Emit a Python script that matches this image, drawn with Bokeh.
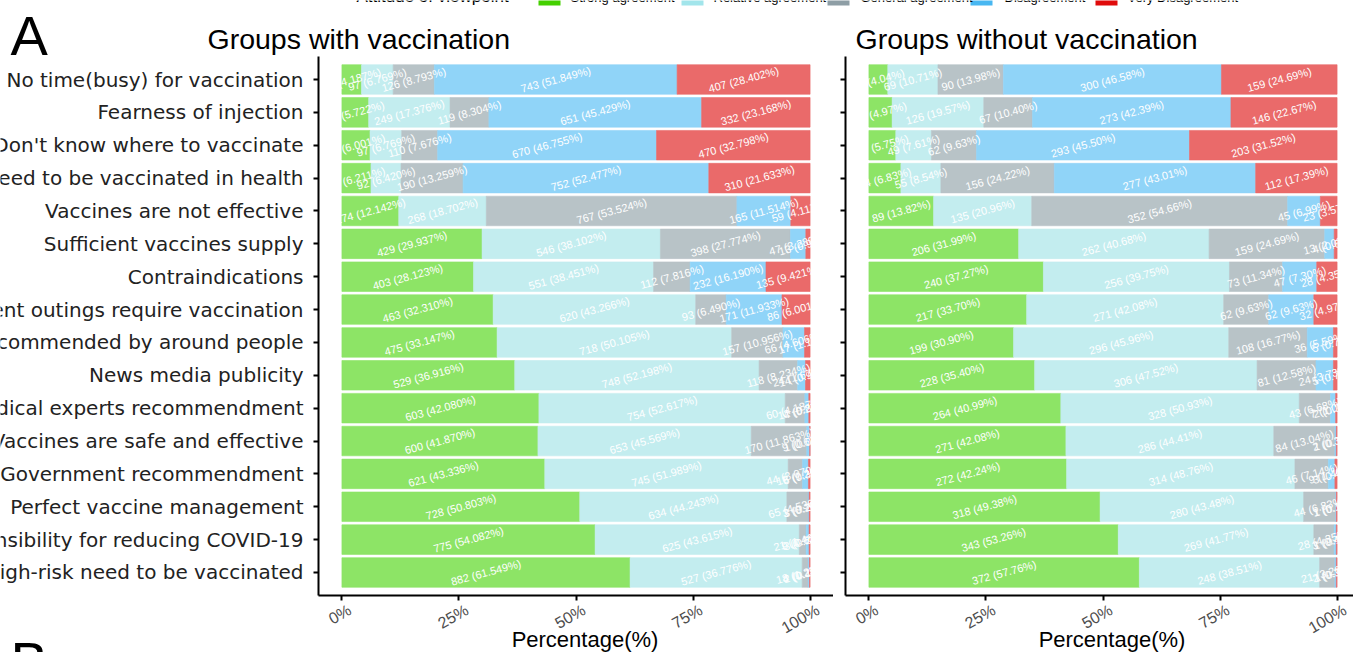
from bokeh.plotting import figure
from bokeh.layouts import column, row
from bokeh.models import (ColumnDataSource, FactorRange, Range1d, FixedTicker,
                          CustomJSTickFormatter)
from bokeh.core.properties import value
from bokeh.embed import file_html
from bokeh.resources import INLINE

# ---------------- data ----------------
reasons = [
    "No time(busy) for vaccination",
    "Fearness of injection",
    "Don't know where to vaccinate",
    "No need to be vaccinated in health",
    "Vaccines are not effective",
    "Sufficient vaccines supply",
    "Contraindications",
    "Frequent outings require vaccination",
    "Recommended by around people",
    "News media publicity",
    "Medical experts recommendment",
    "Vaccines are safe and effective",
    "Government recommendment",
    "Perfect vaccine management",
    "Responsibility for reducing COVID-19",
    "High-risk need to be vaccinated",
]
attitudes = ["Strong agreement", "Relative agreement", "General agreement",
             "Disagreement", "Very Disagreement"]

# Groups with vaccination (n = 1433)
vacc_strong   = [60, 82, 86, 89, 174, 429, 403, 463, 475, 529, 603, 600, 621, 728, 775, 882]
vacc_relative = [97, 249, 97, 92, 268, 546, 551, 620, 718, 748, 754, 653, 745, 634, 625, 527]
vacc_general  = [126, 119, 110, 190, 767, 398, 112, 93, 157, 118, 60, 170, 44, 65, 21, 18]
vacc_disagree = [743, 651, 670, 752, 165, 47, 232, 171, 66, 24, 12, 9, 18, 3, 9, 4]
vacc_very     = [407, 332, 470, 310, 59, 13, 135, 86, 17, 14, 4, 1, 5, 3, 3, 2]

# Groups without vaccination (n = 644)
novacc_strong   = [26, 32, 37, 44, 89, 206, 240, 217, 199, 228, 264, 271, 272, 318, 343, 372]
novacc_relative = [69, 126, 49, 55, 135, 262, 256, 271, 296, 306, 328, 286, 314, 280, 269, 248]
novacc_general  = [90, 67, 62, 156, 352, 159, 73, 62, 108, 81, 43, 84, 46, 44, 28, 21]
novacc_disagree = [300, 273, 293, 277, 45, 13, 47, 62, 36, 24, 7, 2, 9, 1, 3, 2]
novacc_very     = [159, 146, 203, 112, 23, 4, 28, 32, 5, 5, 2, 1, 3, 1, 1, 1]

group_titles = ["Groups with vaccination", "Groups without vaccination"]
x_ticks = [0, 0.25, 0.5, 0.75, 1.0]
x_tick_labels = ["0%", "25%", "50%", "75%", "100%"]
legend_title = "Attitude of viewpoint"
x_title = "Percentage(%)"

# ---------------- styles / layout ----------------
bar_colors = ["#8DE466", "#C3EDEF", "#B8C3C7", "#90D4F8", "#EA6A6A"]
key_colors = ["#44D000", "#A2E5EB", "#8E9EA5", "#48B7F1", "#E00B0B"]
FONT = "Liberation Sans"
LABEL_FONT = "DejaVu Sans"

HEADER_H = 56
FRAME_H = 539
AXIS_H = 6
ROW_H = FRAME_H + AXIS_H
FOOT_H = 51
LABEL_W = 306
AX_W = 12
PANEL_W = 515
RIGHT_PANEL_W = 508
PAD = 0.1
W = LABEL_W + (AX_W + PANEL_W) + (AX_W + RIGHT_PANEL_W)

factors = list(reversed(reasons))
y_range = FactorRange(factors=factors, range_padding=2 * PAD, range_padding_units="absolute")


def plain(width, height, x_range, y_range, left_border=0, bottom_border=0):
    f = figure(width=width, height=height, x_range=x_range, y_range=y_range,
               x_axis_location=None, y_axis_location=None, toolbar_location=None,
               output_backend="svg", min_border_left=left_border, min_border_right=0,
               min_border_top=0, min_border_bottom=bottom_border, outline_line_color=None)
    f.grid.visible = False
    return f


def make_panel(series, decimals, frame_w, x_range):
    keys = ["s%d" % i for i in range(len(series))]
    totals = [sum(col) for col in zip(*series)]
    data = {"reason": reasons}
    for k, s in zip(keys, series):
        data[k] = [c / t for c, t in zip(s, totals)]
    src = ColumnDataSource(data)

    p = figure(y_range=y_range, x_range=x_range,
               width=AX_W + frame_w, height=ROW_H,
               min_border_left=AX_W, min_border_right=0, min_border_top=0,
               min_border_bottom=AXIS_H, toolbar_location=None,
               output_backend="svg", outline_line_color=None)
    p.hbar_stack(keys, y="reason", height=0.9, source=src,
                 fill_color=bar_colors, line_color=bar_colors, line_width=0.6)

    # value labels at the middle of each stacked segment
    lx, ly, lt = [], [], []
    for i, r in enumerate(reasons):
        cum = 0.0
        for s in series:
            frac = s[i] / totals[i]
            if s[i] > 0:
                lx.append(cum + frac / 2)
                ly.append(r)
                lt.append(f"{s[i]} ({100 * frac:.{decimals}f}%)")
            cum += frac
    lsrc = ColumnDataSource(dict(x=lx, y=ly, text=lt))
    p.text(x="x", y="y", text="text", source=lsrc, angle=15, angle_units="deg",
           text_align="center", text_baseline="middle", text_color="white",
           text_font=value(FONT), text_font_size="11px")

    p.grid.grid_line_color = None
    p.axis.axis_line_color = "black"
    p.axis.axis_line_width = 2
    p.axis.major_tick_line_color = "black"
    p.axis.major_tick_line_width = 2
    p.axis.major_tick_in = 0
    p.axis.major_tick_out = 5
    p.axis.minor_tick_line_color = None
    p.axis.major_label_standoff = 0
    p.axis.formatter = CustomJSTickFormatter(code="return ''")
    p.xaxis.ticker = FixedTicker(ticks=x_ticks)
    p.xaxis.major_label_orientation = "vertical"
    return p


def make_footer(frame_w, x_range):
    f = plain(AX_W + frame_w, FOOT_H, x_range, Range1d(0, FOOT_H), left_border=AX_W)
    # slanted tick labels under each tick (ggplot angle = 30)
    f.text(x=x_ticks, y=[FOOT_H - 7] * len(x_ticks), text=x_tick_labels, angle=30,
           angle_units="deg", x_offset=8, text_align="right", text_baseline="middle",
           text_font=value(FONT), text_font_size="16px", text_color="#4D4D4D")
    f.text(x=[0.5], y=[FOOT_H - 38], text=[x_title], x_offset=9, text_align="center",
           text_baseline="middle", text_font=value(FONT), text_font_size="22px",
           text_color="black")
    return f


xr_left = Range1d(-0.05, 1.05)
xr_right = Range1d(-0.05, -0.05 + 1.1 * RIGHT_PANEL_W / PANEL_W)

left = make_panel([vacc_strong, vacc_relative, vacc_general, vacc_disagree, vacc_very],
                  3, PANEL_W, xr_left)
right = make_panel([novacc_strong, novacc_relative, novacc_general, novacc_disagree, novacc_very],
                   2, RIGHT_PANEL_W, xr_right)

# category labels (clipped at the left edge like the reference crop)
lab = plain(LABEL_W, ROW_H, Range1d(0, LABEL_W), y_range, bottom_border=AXIS_H)
lab.text(x=LABEL_W, y=reasons, text=reasons, x_offset=-3, text_align="right",
         text_baseline="middle", text_font=value(LABEL_FONT), text_font_size="20px",
         text_color="#222222")

# header: panel letter, panel titles and (cropped) legend; y measured upward
H = HEADER_H
header = plain(W, H, Range1d(0, W), Range1d(0, H))
header.text(x=[10], y=[H - 35], text=["A"], text_font=value(FONT), text_font_size="56px",
            text_baseline="middle", text_color="black")
header.text(x=[207, 855], y=[H - 38, H - 38], text=group_titles, text_font=value(FONT),
            text_font_size="28.5px", text_baseline="middle", text_color="black")
key_x = [549, 692, 838, 981, 1106]
lab_x = [570, 713, 860, 1004, 1127]
header.rect(x=key_x, y=[H + 6] * 5, width=22, height=22, fill_color=key_colors, line_color=None)
header.text(x=lab_x, y=[H + 3] * 5, text=attitudes, text_font=value(FONT), text_font_size="13px",
            text_baseline="middle", text_color="black")
header.text(x=[356], y=[H + 4], text=[legend_title], text_font=value(FONT), text_font_size="17px",
            text_baseline="middle", text_color="black")

# footer: tick labels, axis titles and the top of the next panel letter
foot_lab = plain(LABEL_W, FOOT_H, Range1d(0, LABEL_W), Range1d(0, FOOT_H))
foot_lab.text(x=[10], y=[FOOT_H - 60], text=["B"], text_font=value(FONT), text_font_size="56px",
              text_baseline="middle", text_color="black")
foot_left = make_footer(PANEL_W, xr_left)
foot_right = make_footer(RIGHT_PANEL_W, xr_right)

layout = column(header, row(lab, left, right), row(foot_lab, foot_left, foot_right))
open("out.html", "w").write(file_html(layout, INLINE))
